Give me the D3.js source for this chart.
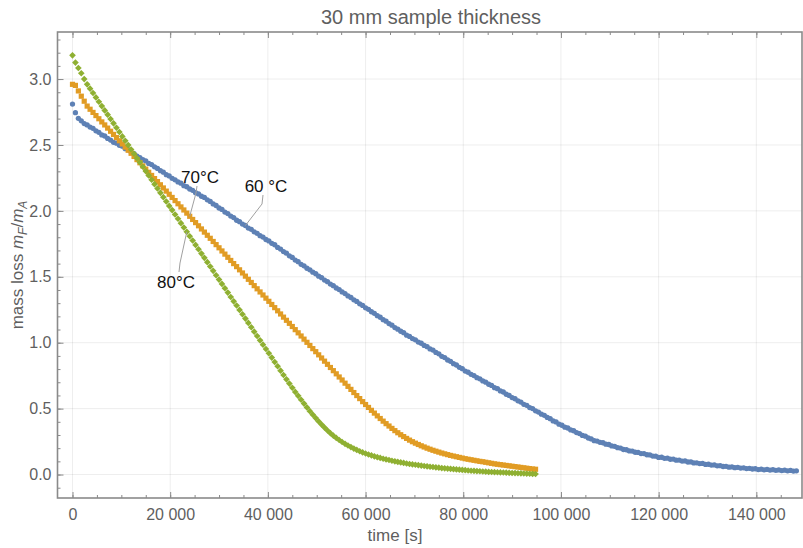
<!DOCTYPE html>
<html>
<head>
<meta charset="utf-8">
<script src="https://cdn.jsdelivr.net/npm/d3@7"></script>
<style>
  body { margin: 0; background: #fff; }
  svg text { font-family: "Liberation Sans", Arial, sans-serif; }
</style>
</head>
<body>
<script>
// messwerte: eine probe alle 600 s
const timeStep = 600;

// 60 °C
const mass60 = [
  2.810, 2.745, 2.702, 2.683, 2.662, 2.652, 2.636, 2.626, 2.607, 2.596,
  2.576, 2.568, 2.550, 2.537, 2.520, 2.514, 2.498, 2.491, 2.472, 2.464,
  2.446, 2.434, 2.416, 2.404, 2.388, 2.379, 2.360, 2.351, 2.334, 2.322,
  2.305, 2.294, 2.275, 2.265, 2.247, 2.236, 2.220, 2.210, 2.191, 2.183,
  2.166, 2.156, 2.138, 2.129, 2.111, 2.102, 2.084, 2.072, 2.053, 2.041,
  2.022, 2.011, 1.991, 1.980, 1.961, 1.949, 1.929, 1.918, 1.900, 1.889,
  1.870, 1.860, 1.841, 1.830, 1.812, 1.801, 1.783, 1.772, 1.754, 1.743,
  1.723, 1.710, 1.691, 1.679, 1.659, 1.647, 1.627, 1.615, 1.595, 1.583,
  1.565, 1.553, 1.535, 1.523, 1.505, 1.493, 1.475, 1.463, 1.445, 1.433,
  1.415, 1.403, 1.385, 1.373, 1.355, 1.343, 1.325, 1.313, 1.295, 1.283,
  1.265, 1.253, 1.235, 1.223, 1.205, 1.193, 1.175, 1.163, 1.145, 1.133,
  1.115, 1.103, 1.087, 1.076, 1.057, 1.048, 1.031, 1.022, 1.005, 0.996,
  0.979, 0.970, 0.953, 0.944, 0.926, 0.916, 0.897, 0.887, 0.869, 0.859,
  0.841, 0.831, 0.813, 0.803, 0.785, 0.776, 0.760, 0.751, 0.735, 0.726,
  0.710, 0.701, 0.685, 0.676, 0.659, 0.651, 0.634, 0.626, 0.609, 0.600,
  0.584, 0.575, 0.559, 0.550, 0.533, 0.525, 0.508, 0.500, 0.483, 0.474,
  0.458, 0.449, 0.433, 0.424, 0.407, 0.399, 0.382, 0.374, 0.359, 0.353,
  0.338, 0.332, 0.318, 0.311, 0.297, 0.291, 0.277, 0.270, 0.257, 0.254,
  0.244, 0.241, 0.230, 0.228, 0.217, 0.214, 0.204, 0.201, 0.190, 0.188,
  0.179, 0.178, 0.169, 0.168, 0.159, 0.159, 0.150, 0.149, 0.140, 0.139,
  0.130, 0.131, 0.123, 0.124, 0.116, 0.117, 0.109, 0.110, 0.102, 0.103,
  0.095, 0.096, 0.088, 0.089, 0.083, 0.084, 0.077, 0.078, 0.072, 0.073,
  0.066, 0.067, 0.061, 0.062, 0.056, 0.058, 0.052, 0.055, 0.049, 0.051,
  0.045, 0.047, 0.042, 0.044, 0.038, 0.041, 0.036, 0.039, 0.034, 0.037,
  0.032, 0.035, 0.030, 0.033, 0.028, 0.031, 0.026, 0.028
];

// 70 °C
const mass70 = [
  2.960, 2.952, 2.910, 2.870, 2.832, 2.795, 2.771, 2.747, 2.723, 2.699,
  2.675, 2.652, 2.628, 2.604, 2.580, 2.556, 2.532, 2.508, 2.484, 2.460,
  2.437, 2.413, 2.389, 2.365, 2.341, 2.317, 2.293, 2.269, 2.245, 2.222,
  2.198, 2.174, 2.150, 2.126, 2.102, 2.078, 2.054, 2.030, 2.007, 1.983,
  1.959, 1.935, 1.911, 1.887, 1.863, 1.839, 1.815, 1.792, 1.768, 1.744,
  1.720, 1.696, 1.672, 1.648, 1.624, 1.600, 1.577, 1.553, 1.529, 1.505,
  1.481, 1.457, 1.433, 1.409, 1.385, 1.362, 1.338, 1.314, 1.290, 1.266,
  1.242, 1.218, 1.194, 1.170, 1.147, 1.123, 1.099, 1.075, 1.051, 1.027,
  1.003, 0.979, 0.955, 0.932, 0.908, 0.884, 0.860, 0.836, 0.812, 0.788,
  0.764, 0.740, 0.717, 0.693, 0.669, 0.646, 0.622, 0.599, 0.576, 0.553,
  0.531, 0.509, 0.487, 0.466, 0.445, 0.425, 0.405, 0.386, 0.368, 0.350,
  0.333, 0.317, 0.302, 0.288, 0.274, 0.261, 0.249, 0.238, 0.228, 0.218,
  0.209, 0.200, 0.192, 0.184, 0.177, 0.170, 0.163, 0.157, 0.151, 0.145,
  0.140, 0.135, 0.130, 0.125, 0.120, 0.116, 0.112, 0.108, 0.104, 0.100,
  0.097, 0.093, 0.089, 0.085, 0.081, 0.078, 0.075, 0.072, 0.069, 0.066,
  0.063, 0.060, 0.057, 0.054, 0.051, 0.048, 0.045, 0.042, 0.040
];

// 80 °C
const mass80 = [
  3.180, 3.125, 3.084, 3.044, 3.000, 2.960, 2.927, 2.894, 2.861, 2.828,
  2.795, 2.762, 2.730, 2.697, 2.664, 2.631, 2.598, 2.565, 2.532, 2.499,
  2.466, 2.433, 2.400, 2.368, 2.335, 2.302, 2.269, 2.236, 2.203, 2.170,
  2.137, 2.104, 2.071, 2.038, 2.006, 1.973, 1.940, 1.907, 1.874, 1.841,
  1.808, 1.775, 1.742, 1.709, 1.676, 1.644, 1.611, 1.578, 1.545, 1.512,
  1.479, 1.446, 1.413, 1.380, 1.347, 1.314, 1.282, 1.249, 1.216, 1.183,
  1.150, 1.117, 1.084, 1.051, 1.018, 0.985, 0.952, 0.920, 0.887, 0.854,
  0.821, 0.788, 0.755, 0.722, 0.690, 0.658, 0.627, 0.597, 0.567, 0.538,
  0.509, 0.481, 0.454, 0.428, 0.403, 0.379, 0.356, 0.334, 0.314, 0.295,
  0.278, 0.262, 0.247, 0.233, 0.220, 0.208, 0.197, 0.187, 0.177, 0.168,
  0.160, 0.152, 0.145, 0.138, 0.132, 0.126, 0.120, 0.115, 0.110, 0.105,
  0.100, 0.096, 0.092, 0.088, 0.084, 0.080, 0.077, 0.074, 0.071, 0.068,
  0.065, 0.062, 0.059, 0.057, 0.054, 0.052, 0.049, 0.047, 0.045, 0.043,
  0.041, 0.039, 0.037, 0.035, 0.033, 0.031, 0.029, 0.028, 0.026, 0.025,
  0.023, 0.022, 0.020, 0.019, 0.018, 0.017, 0.016, 0.015, 0.014, 0.013,
  0.012, 0.011, 0.010, 0.009, 0.008, 0.007, 0.006, 0.005, 0.004
];

const seriesLabels = ["60 °C", "70°C", "80°C"];
const seriesColors = ["#5e81b5", "#e19c24", "#8fb032"];

const xTicks = [0, 20000, 40000, 60000, 80000, 100000, 120000, 140000];
const xTickLabels = ["0", "20 000", "40 000", "60 000", "80 000", "100 000", "120 000", "140 000"];
const yTicks = [0, 0.5, 1.0, 1.5, 2.0, 2.5, 3.0];
const yTickLabels = ["0.0", "0.5", "1.0", "1.5", "2.0", "2.5", "3.0"];

const width = 803, height = 548;
const plotLeft = 57.5, plotRight = 802, plotTop = 32, plotBottom = 498;
const frameColor = "#8a8a8a";
const labelColor = "#5f5f5f";

const svg = d3.select("body")
  .append("svg")
  .attr("width", width)
  .attr("height", height);

const x = d3.scaleLinear().domain([-3070, 149350]).range([plotLeft, plotRight]);
const y = d3.scaleLinear().domain([-0.178, 3.357]).range([plotBottom, plotTop]);

// gitterlinien
svg.append("g")
  .selectAll("line")
  .data(xTicks)
  .join("line")
  .attr("x1", d => x(d)).attr("x2", d => x(d))
  .attr("y1", plotTop).attr("y2", plotBottom)
  .attr("stroke", "#000").attr("stroke-opacity", 0.07);

svg.append("g")
  .selectAll("line")
  .data(yTicks)
  .join("line")
  .attr("x1", plotLeft).attr("x2", plotRight)
  .attr("y1", d => y(d)).attr("y2", d => y(d))
  .attr("stroke", "#000").attr("stroke-opacity", 0.07);

// kleine striche
const xMinor = d3.range(0, 149000, 5000);
const yMinor = d3.range(-1, 34).map(d => d / 10);

function styleAxis(g) {
  g.select(".domain").remove();
  g.selectAll(".tick line").attr("stroke", frameColor);
  g.selectAll("text")
    .attr("fill", labelColor)
    .attr("font-size", 16);
}

svg.append("g")
  .attr("transform", `translate(0,${plotBottom})`)
  .call(d3.axisBottom(x).tickValues(xMinor).tickSize(-3).tickFormat(""))
  .call(styleAxis);
svg.append("g")
  .attr("transform", `translate(0,${plotBottom})`)
  .call(d3.axisBottom(x).tickValues(xTicks).tickSize(-6).tickPadding(11)
    .tickFormat((d, i) => xTickLabels[i]))
  .call(styleAxis);

svg.append("g")
  .attr("transform", `translate(0,${plotTop})`)
  .call(d3.axisTop(x).tickValues(xMinor).tickSize(-3).tickFormat(""))
  .call(styleAxis);
svg.append("g")
  .attr("transform", `translate(0,${plotTop})`)
  .call(d3.axisTop(x).tickValues(xTicks).tickSize(-6).tickFormat(""))
  .call(styleAxis);

svg.append("g")
  .attr("transform", `translate(${plotLeft},0)`)
  .call(d3.axisLeft(y).tickValues(yMinor).tickSize(-3).tickFormat(""))
  .call(styleAxis);
svg.append("g")
  .attr("transform", `translate(${plotLeft},0)`)
  .call(d3.axisLeft(y).tickValues(yTicks).tickSize(-6).tickPadding(6)
    .tickFormat((d, i) => yTickLabels[i]))
  .call(styleAxis);

// rahmen
svg.append("rect")
  .attr("x", plotLeft).attr("y", plotTop)
  .attr("width", plotRight - plotLeft).attr("height", plotBottom - plotTop)
  .attr("fill", "none")
  .attr("stroke", frameColor)
  .attr("stroke-width", 1.6);

// messpunkte
const series = [mass60, mass70, mass80];
const shapes = [
  d3.symbol().type(d3.symbolCircle).size(22),
  d3.symbol().type(d3.symbolSquare).size(27),
  d3.symbol().type(d3.symbolSquare).size(22)
];
const rotation = [0, 0, 45];

series.forEach((values, s) => {
  svg.append("g")
    .selectAll("path")
    .data(values)
    .join("path")
    .attr("d", shapes[s])
    .attr("transform", (d, i) => `translate(${x(i * timeStep)},${y(d)}) rotate(${rotation[s]})`)
    .attr("fill", seriesColors[s]);
});

// beschriftungen mit hinweislinie
const callouts = [
  { series: 0, index: 59, tx: 266, ty: 192, path: [[263, 195], [262, 204]] },
  { series: 1, index: 40, tx: 200, ty: 183, path: [[197, 186], [196, 193]] },
  { series: 2, index: 39, tx: 176, ty: 288, path: [[179, 272], [180, 263]] }
];

callouts.forEach(c => {
  const values = series[c.series];
  const pts = c.path.concat([[x(c.index * timeStep), y(values[c.index])]]);
  svg.append("path")
    .attr("d", d3.line()(pts))
    .attr("fill", "none")
    .attr("stroke", "#a0a0a0")
    .attr("stroke-width", 1);
  svg.append("text")
    .attr("x", c.tx).attr("y", c.ty)
    .attr("text-anchor", "middle")
    .attr("font-size", 17)
    .attr("fill", "#111")
    .text(seriesLabels[c.series]);
});

// titel und achsentitel
svg.append("text")
  .attr("x", 431).attr("y", 24)
  .attr("text-anchor", "middle")
  .attr("font-size", 20)
  .attr("fill", labelColor)
  .text("30 mm sample thickness");

svg.append("text")
  .attr("x", 395).attr("y", 541)
  .attr("text-anchor", "middle")
  .attr("font-size", 17)
  .attr("fill", labelColor)
  .text("time [s]");

const yLabel = svg.append("text")
  .attr("transform", "translate(23,265) rotate(-90)")
  .attr("text-anchor", "middle")
  .attr("font-size", 17)
  .attr("fill", labelColor);
yLabel.append("tspan").text("mass loss ");
yLabel.append("tspan").attr("font-style", "italic").text("m");
yLabel.append("tspan").attr("font-style", "italic").attr("font-size", 12).attr("dy", 4).text("F");
yLabel.append("tspan").attr("dy", -4).text("/");
yLabel.append("tspan").attr("font-style", "italic").text("m");
yLabel.append("tspan").attr("font-style", "italic").attr("font-size", 12).attr("dy", 4).text("A");
</script>
</body>
</html>
